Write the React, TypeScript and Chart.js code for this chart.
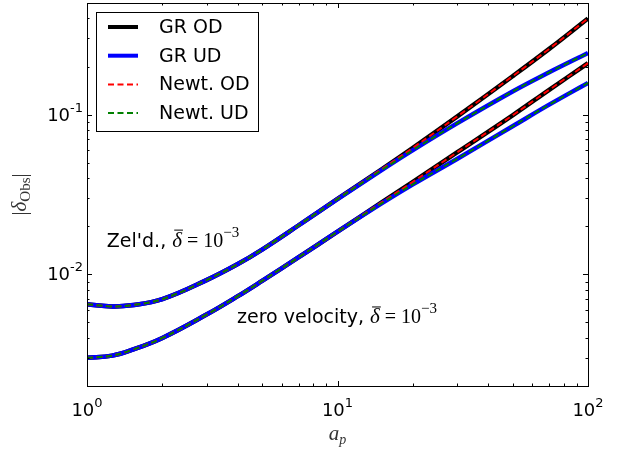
import React, { useEffect, useRef } from "react";
import { Chart, registerables } from "chart.js";
Chart.register(...registerables);

// ---- data ----
const A_P = [1, 1.26, 1.5, 2, 3, 4, 5, 7, 10, 15, 20, 30, 50, 70, 100];
const ZEL_OD = [0.0065, 0.0063, 0.0064, 0.007, 0.0092, 0.0116, 0.0143, 0.0203, 0.0297, 0.0455, 0.062, 0.0972, 0.174, 0.258, 0.4];
const ZEL_UD = [0.0065, 0.0063, 0.0064, 0.007, 0.0092, 0.0116, 0.0143, 0.0203, 0.0296, 0.0449, 0.0599, 0.0881, 0.1395, 0.184, 0.243];
const ZERO_OD = [0.003, 0.0031, 0.00335, 0.004, 0.0056, 0.0073, 0.0091, 0.0128, 0.0185, 0.0282, 0.038, 0.058, 0.099, 0.143, 0.21];
const ZERO_UD = [0.003, 0.0031, 0.00335, 0.004, 0.0056, 0.0073, 0.0091, 0.0128, 0.0185, 0.0278, 0.0366, 0.0528, 0.0846, 0.1155, 0.158];
const NEWT_ZEL_OD = ZEL_OD;
const NEWT_ZEL_UD = ZEL_UD;
const NEWT_ZERO_OD = ZERO_OD;
const NEWT_ZERO_UD = ZERO_UD;

const LEGEND_LABELS = ["GR OD", "GR UD", "Newt. OD", "Newt. UD"];
const X_RANGE = [1, 100];
const Y_RANGE = [0.002, 0.5];
const X_MAJOR = [1, 10, 100];
const X_EXP = ["0", "1", "2"];
const Y_MAJOR = [0.01, 0.1];
const Y_EXP = ["-2", "-1"];

const pts = (ys: number[]) => A_P.map((x, i) => ({ x, y: ys[i] }));

const SANS = "'DejaVu Sans'";
const SERIF = "'Liberation Serif'";

type Seg = { t: string; f: string; dy?: number; bar?: boolean };

function drawRich(ctx: CanvasRenderingContext2D, x: number, y: number, segs: Seg[], align: "left" | "center" | "right") {
  let total = 0;
  const widths = segs.map((s) => {
    ctx.font = s.f;
    const w = ctx.measureText(s.t).width;
    total += w;
    return w;
  });
  let cx = align === "left" ? x : align === "center" ? x - total / 2 : x - total;
  ctx.textAlign = "left";
  ctx.textBaseline = "alphabetic";
  segs.forEach((s, i) => {
    ctx.font = s.f;
    ctx.fillText(s.t, cx, y + (s.dy || 0));
    if (s.bar) {
      ctx.save();
      ctx.lineWidth = 1;
      ctx.strokeStyle = ctx.fillStyle as string;
      ctx.beginPath();
      ctx.moveTo(cx + 2, y - 16.5);
      ctx.lineTo(cx + widths[i] + 1, y - 16.5);
      ctx.stroke();
      ctx.restore();
    }
    cx += widths[i];
  });
}

const mathSegs = (prefix: string): Seg[] => [
  { t: prefix, f: `19px ${SANS}` },
  { t: "δ", f: `italic 21px ${SERIF}`, bar: true },
  { t: " = ", f: `20px ${SERIF}` },
  { t: "10", f: `20px ${SERIF}` },
  { t: "−3", f: `15px ${SERIF}`, dy: -10 },
];

const decorPlugin = {
  id: "decor",
  afterDatasetsDraw(chart: any) {
    const ctx: CanvasRenderingContext2D = chart.ctx;
    const { left, right, top, bottom } = chart.chartArea;
    const xs = chart.scales.x;
    const ys = chart.scales.y;
    ctx.save();
    // annotations
    ctx.fillStyle = "#000";
    drawRich(ctx, xs.getPixelForValue(1.2), ys.getPixelForValue(0.0165) + 7, mathSegs("Zel'd., "), "left");
    drawRich(ctx, xs.getPixelForValue(3.97), ys.getPixelForValue(0.00545) + 7, mathSegs("zero velocity, "), "left");

    // frame
    ctx.strokeStyle = "#000";
    ctx.lineWidth = 1;
    ctx.strokeRect(Math.round(left) + 0.5, Math.round(top) + 0.5, Math.round(right - left), Math.round(bottom - top));

    // ticks (inward, all four sides)
    const tick = (px: number, horiz: boolean, len: number) => {
      ctx.beginPath();
      const p = Math.round(px) + 0.5;
      if (horiz) {
        ctx.moveTo(p, bottom); ctx.lineTo(p, bottom - len);
        ctx.moveTo(p, top); ctx.lineTo(p, top + len);
      } else {
        ctx.moveTo(left, p); ctx.lineTo(left + len, p);
        ctx.moveTo(right, p); ctx.lineTo(right - len, p);
      }
      ctx.stroke();
    };
    for (let d = 1; d < 100; d *= 10) {
      for (let m = 1; m <= 9; m++) {
        const v = d * m;
        if (v < X_RANGE[0] || v > X_RANGE[1]) continue;
        tick(xs.getPixelForValue(v), true, m === 1 ? 5 : 2.5);
      }
    }
    tick(xs.getPixelForValue(100), true, 5);
    for (let d = 0.001; d < 1; d *= 10) {
      for (let m = 1; m <= 9; m++) {
        const v = d * m;
        if (v < Y_RANGE[0] * 0.999 || v > Y_RANGE[1] * 1.001) continue;
        tick(ys.getPixelForValue(v), false, m === 1 ? 5 : 2.5);
      }
    }

    // tick labels
    ctx.fillStyle = "#000";
    X_MAJOR.forEach((v, i) => {
      const px = xs.getPixelForValue(v);
      drawRich(ctx, px, bottom + 30, [
        { t: "10", f: `18px ${SANS}` },
        { t: X_EXP[i], f: `13px ${SANS}`, dy: -9 },
      ], "center");
    });
    Y_MAJOR.forEach((v, i) => {
      const py = ys.getPixelForValue(v);
      drawRich(ctx, left - 4, py + 6, [
        { t: "10", f: `18px ${SANS}` },
        { t: Y_EXP[i], f: `13px ${SANS}`, dy: -9 },
      ], "right");
    });

    // axis titles
    ctx.fillStyle = "#333";
    drawRich(ctx, (left + right) / 2, 440, [
      { t: "a", f: `italic 21px ${SERIF}` },
      { t: "p", f: `italic 14px ${SERIF}`, dy: 4 },
    ], "center");
    ctx.save();
    ctx.translate(26, (top + bottom) / 2);
    ctx.rotate(-Math.PI / 2);
    drawRich(ctx, 0, 0, [
      { t: "|", f: `20px ${SERIF}` },
      { t: "δ", f: `italic 21px ${SERIF}` },
      { t: "Obs", f: `15px ${SERIF}`, dy: 4 },
      { t: "|", f: `20px ${SERIF}` },
    ], "center");
    ctx.restore();

    // legend
    const lx = 96, ly = 12, lw = 162, lh = 119;
    ctx.fillStyle = "#fff";
    ctx.fillRect(lx, ly, lw, lh);
    ctx.strokeStyle = "#000";
    ctx.lineWidth = 1;
    ctx.strokeRect(lx + 0.5, ly + 0.5, lw, lh);
    LEGEND_LABELS.forEach((label, i) => {
      const ds = chart.data.datasets[i];
      const y = 27 + i * 28.7;
      ctx.save();
      ctx.strokeStyle = ds.borderColor;
      ctx.lineWidth = Math.min(ds.borderWidth, 4);
      ctx.setLineDash(ds.borderDash || []);
      ctx.beginPath();
      ctx.moveTo(108, y);
      ctx.lineTo(138, y);
      ctx.stroke();
      ctx.restore();
      ctx.fillStyle = "#000";
      ctx.font = `19px ${SANS}`;
      ctx.textAlign = "left";
      ctx.textBaseline = "middle";
      ctx.fillText(label, 159, y + 1);
    });
    ctx.restore();
  },
};

export default function App() {
  const ref = useRef<HTMLCanvasElement>(null);
  useEffect(() => {
    if (!ref.current) return;
    const styles = [
      { c: "#000000", w: 4.5, dash: [] as number[], order: 4 },
      { c: "#0000ff", w: 4.5, dash: [] as number[], order: 3 },
      { c: "#ff0000", w: 2, dash: [6, 3.5], order: 2 },
      { c: "#008000", w: 2, dash: [6, 3.5], order: 1 },
    ];
    const groups = [
      [ZEL_OD, ZEL_UD, NEWT_ZEL_OD, NEWT_ZEL_UD],
      [ZERO_OD, ZERO_UD, NEWT_ZERO_OD, NEWT_ZERO_UD],
    ];
    const datasets: any[] = [];
    groups.forEach((g, gi) => {
      g.forEach((ys, i) => {
        datasets.push({
          label: LEGEND_LABELS[i] + (gi ? " (zero velocity)" : " (Zel'd.)"),
          data: pts(ys),
          borderColor: styles[i].c,
          backgroundColor: styles[i].c,
          borderWidth: styles[i].w,
          borderDash: styles[i].dash,
          order: styles[i].order,
          pointRadius: 0,
          fill: false,
          tension: 0.4,
          borderCapStyle: "butt",
        });
      });
    });
    const chart = new Chart(ref.current, {
      type: "line",
      data: { datasets },
      options: {
        animation: false,
        responsive: false,
        devicePixelRatio: 1,
        layout: { padding: { left: 0, right: 33, top: 3, bottom: 0 } },
        plugins: { legend: { display: false }, tooltip: { enabled: false } },
        scales: {
          x: {
            type: "logarithmic",
            min: X_RANGE[0],
            max: X_RANGE[1],
            ticks: { display: false },
            grid: { display: false, drawTicks: false },
            border: { display: false },
            afterFit: (s: any) => { s.height = 63; },
          },
          y: {
            type: "logarithmic",
            min: Y_RANGE[0],
            max: Y_RANGE[1],
            ticks: { display: false },
            grid: { display: false, drawTicks: false },
            border: { display: false },
            afterFit: (s: any) => { s.width = 87; },
          },
        },
      } as any,
      plugins: [decorPlugin],
    });
    return () => chart.destroy();
  }, []);
  return (
    <div style={{ position: "fixed", left: 0, top: 0, width: 621, height: 449, background: "#fff" }}>
      <canvas ref={ref} width={621} height={449} />
    </div>
  );
}
